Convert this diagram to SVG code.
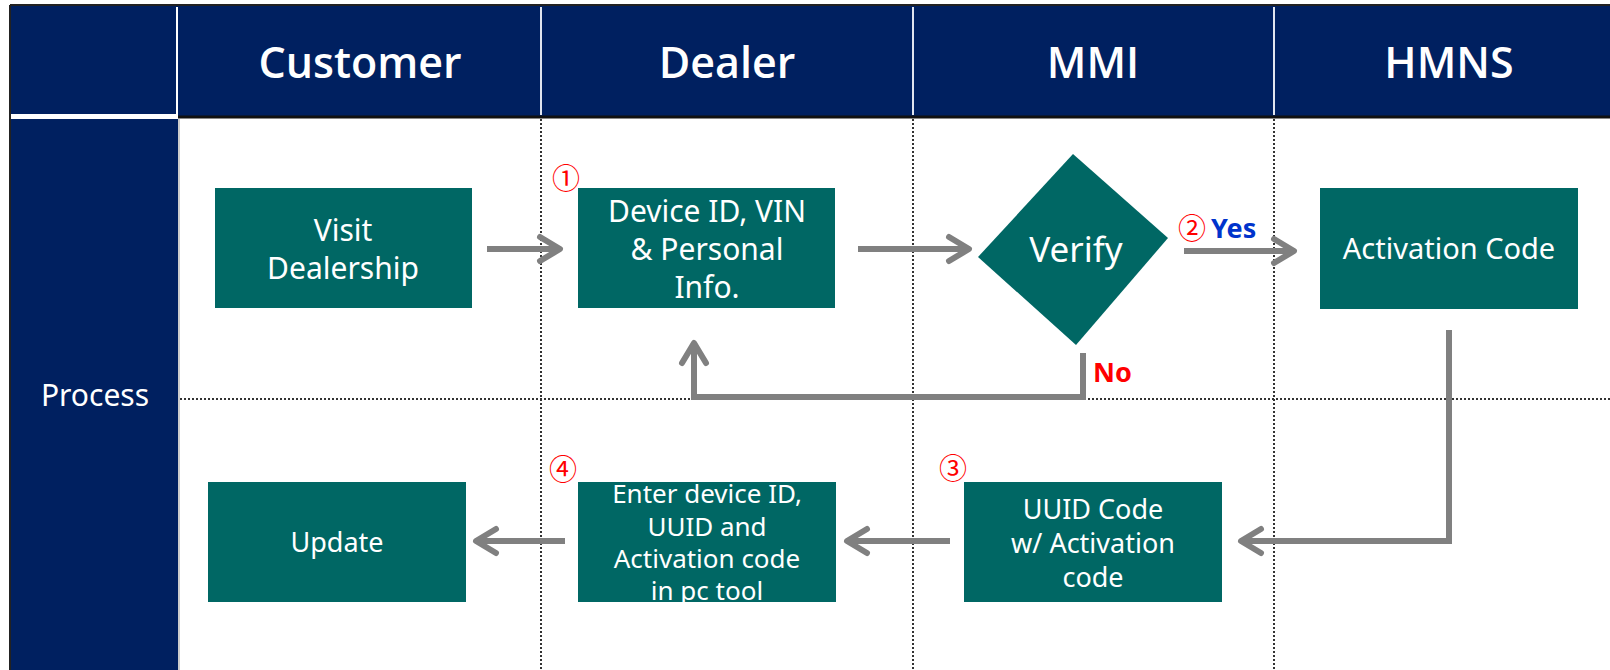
<svg xmlns="http://www.w3.org/2000/svg" width="1610" height="670" viewBox="0 0 1610 670">
<style>
.hdr{fill:#002060}
.hdrtxt{font-family:"Open Sans","Noto Sans",sans-serif;font-weight:600;font-size:43px;fill:#ffffff;text-anchor:middle}
.side{font-family:"Noto Sans","Open Sans",sans-serif;font-size:30px;fill:#ffffff;text-anchor:middle}
.box{fill:#006764}
.t{font-family:"Noto Sans","Open Sans",sans-serif;fill:#ffffff;text-anchor:middle}
.dot{stroke:#333333;stroke-width:2;stroke-dasharray:2 2;fill:none}
.conn{stroke:#808080;stroke-width:6;fill:none;marker-end:url(#ah)}
.num{font-family:"Noto Sans CJK KR","DejaVu Sans",sans-serif;font-size:28px;fill:#ff0000;text-anchor:middle}
.lbl{font-family:"Noto Sans","Open Sans",sans-serif;font-weight:bold;font-size:27px}
</style>
<defs>
<marker id="ah" viewBox="-26 -16 30 32" markerWidth="30" markerHeight="32" refX="0" refY="0" orient="auto" markerUnits="userSpaceOnUse">
<path d="M-20,-12 L0,0 L-20,12" fill="none" stroke="#808080" stroke-width="6" stroke-linecap="round" stroke-linejoin="round"/>
</marker>
</defs>
<rect x="0" y="0" width="1610" height="670" fill="#ffffff"/>
<g id="frame">
<rect class="hdr" x="10" y="5" width="1600" height="111"/>
<line x1="10" y1="5" x2="1610" y2="5" stroke="#222" stroke-width="2"/>
<line x1="178" y1="117" x2="1610" y2="117" stroke="#111" stroke-width="3"/>
<rect class="hdr" x="10" y="119" width="168" height="551"/>
<line x1="10" y1="5" x2="10" y2="670" stroke="#222" stroke-width="2"/>
<rect x="11" y="114" width="167" height="5" fill="#ffffff"/>
<line x1="177" y1="7" x2="177" y2="116" stroke="#ffffff" stroke-width="2"/>
<line x1="179" y1="119" x2="179" y2="670" stroke="#bbbbbb" stroke-width="1.5"/>
<line x1="541" y1="7" x2="541" y2="115" stroke="#e0e4ee" stroke-width="2"/>
<line x1="913" y1="7" x2="913" y2="115" stroke="#e0e4ee" stroke-width="2"/>
<line x1="1274" y1="7" x2="1274" y2="115" stroke="#e0e4ee" stroke-width="2"/>
<text class="hdrtxt" x="360" y="78">Customer</text>
<text class="hdrtxt" x="727" y="78">Dealer</text>
<text class="hdrtxt" x="1093" y="78">MMI</text>
<text class="hdrtxt" x="1449" y="78">HMNS</text>
<text class="side" x="95" y="406">Process</text>
<line class="dot" x1="541" y1="119" x2="541" y2="670"/>
<line class="dot" x1="913" y1="119" x2="913" y2="670"/>
<line class="dot" x1="1274" y1="119" x2="1274" y2="670"/>
<line class="dot" x1="180" y1="399" x2="1610" y2="399"/>
</g>
<g id="connectors">
<path class="conn" d="M487,249 H560"/>
<path class="conn" d="M858,249 H969"/>
<path class="conn" d="M1184,251 H1294"/>
<path class="conn" d="M1083,353 V397 H694 V343"/>
<path class="conn" d="M1449,330 V541 H1241"/>
<path class="conn" d="M950,541 H847"/>
<path class="conn" d="M565,541 H476"/>
<text class="num" x="1192" y="239">②</text>
<text class="lbl" x="1211" y="238" fill="#0033cc">Yes</text>
<text class="lbl" x="1093" y="382" fill="#ff0000">No</text>
</g>
<g id="visit">
<rect class="box" x="215" y="188" width="257" height="120"/>
<text class="t" font-size="30" x="343" y="241">Visit</text>
<text class="t" font-size="30" x="343" y="279">Dealership</text>
</g>
<g id="device">
<rect class="box" x="578" y="188" width="257" height="120"/>
<text class="num" x="566" y="189">①</text>
<text class="t" font-size="30" x="707" y="222">Device ID, VIN</text>
<text class="t" font-size="30" x="707" y="260">&amp; Personal</text>
<text class="t" font-size="30" x="707" y="298">Info.</text>
</g>
<g id="verify">
<polygon class="box" points="1073,154 1168,238 1076,345 978,257"/>
<text class="t" font-size="35" x="1076" y="262">Verify</text>
</g>
<g id="activation">
<rect class="box" x="1320" y="188" width="258" height="121"/>
<text class="t" font-size="29" x="1449" y="259">Activation Code</text>
</g>
<g id="uuid">
<rect class="box" x="964" y="482" width="258" height="120"/>
<text class="num" x="953" y="479">③</text>
<text class="t" font-size="27" x="1093" y="519">UUID Code</text>
<text class="t" font-size="27" x="1093" y="553">w/ Activation</text>
<text class="t" font-size="27" x="1093" y="587">code</text>
</g>
<g id="enter">
<rect class="box" x="578" y="482" width="258" height="120"/>
<text class="num" x="563" y="480">④</text>
<text class="t" font-size="26" x="707" y="503">Enter device ID,</text>
<text class="t" font-size="26" x="707" y="536">UUID and</text>
<text class="t" font-size="26" x="707" y="568">Activation code</text>
<text class="t" font-size="26" x="707" y="600">in pc tool</text>
</g>
<g id="update">
<rect class="box" x="208" y="482" width="258" height="120"/>
<text class="t" font-size="27" x="337" y="552">Update</text>
</g>
</svg>
